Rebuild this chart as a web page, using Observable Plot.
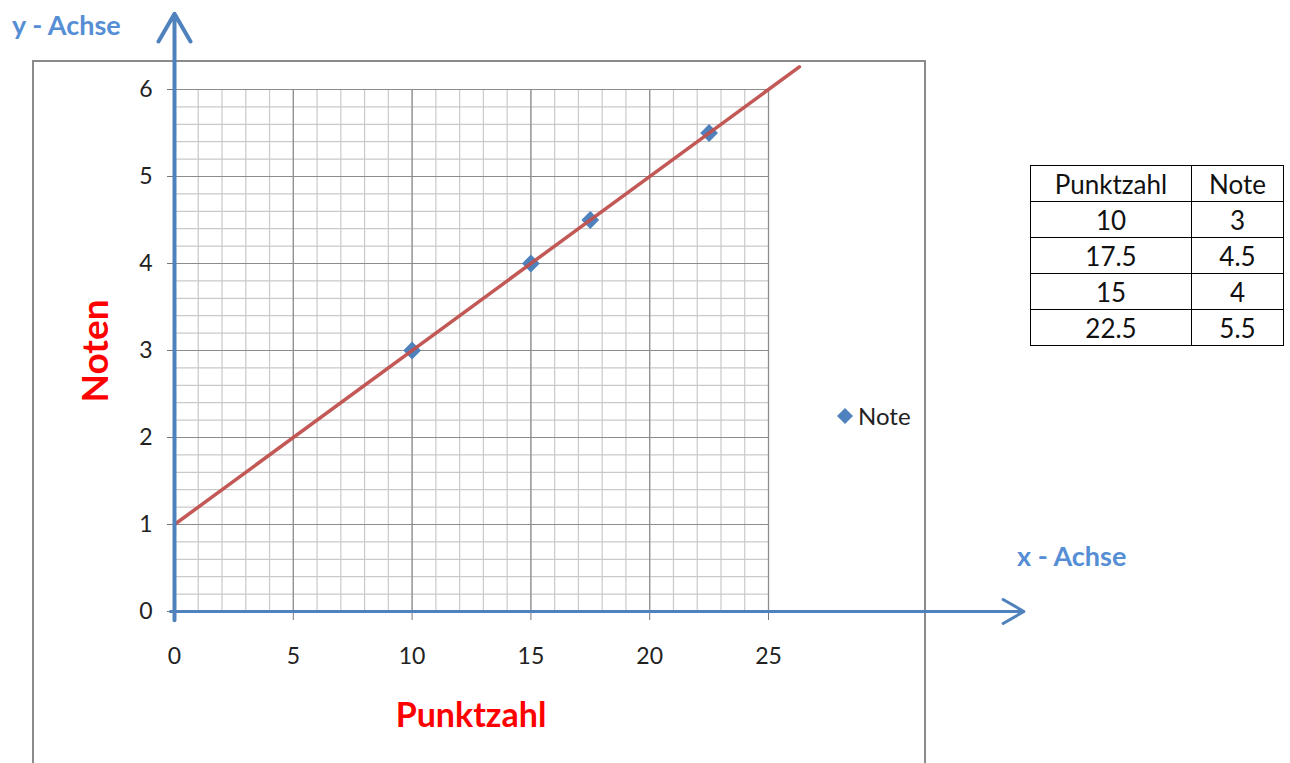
<!DOCTYPE html>
<html>
<head>
<meta charset="utf-8">
<script src="https://cdn.jsdelivr.net/npm/d3@7"></script>
<script src="https://cdn.jsdelivr.net/npm/@observablehq/plot@0.6"></script>
<style>
  body { margin: 0; background: #fff; font-family: Lato, "Open Sans", sans-serif; }
  #wrap { position: relative; width: 1290px; height: 763px; overflow: hidden; background: #fff; }
  #frame { position: absolute; left: 32px; top: 60px; width: 894px; height: 740px; border: 2px solid #8a8a8a; box-sizing: border-box; }
  #chart { position: absolute; left: 0; top: 0; }
  .lbl { position: absolute; white-space: nowrap; font-weight: bold; line-height: 1; }
  #yAchse { left: 12px; top: 11px; font-size: 27px; color: #558ED5; }
  #xAchse { left: 1017px; top: 542px; font-size: 27px; color: #558ED5; }
  #noten { left: 93px; top: 351px; font-size: 37px; color: #ff0000; transform: translate(-50%, -50%) rotate(-90deg); }
  #punkt { left: 471px; top: 714px; font-size: 34px; color: #ff0000; transform: translate(-50%, -50%); }
  #legend { position: absolute; left: 836px; top: 401px; font-size: 24px; color: #222; display: flex; align-items: center; gap: 4px; }
  #tbl { position: absolute; left: 1030px; top: 165px; border-collapse: collapse; font-size: 26px; color: #111; }
  #tbl td { border: 1.5px solid #000; text-align: center; height: 35px; padding: 0; line-height: 1; }
  #tbl td.c1 { width: 160px; }
  #tbl td.c2 { width: 91px; }
</style>
</head>
<body>
<div id="wrap">
  <div id="frame"></div>
  <div id="chart"></div>
  <div class="lbl" id="yAchse">y - Achse</div>
  <div class="lbl" id="xAchse">x - Achse</div>
  <div class="lbl" id="noten">Noten</div>
  <div class="lbl" id="punkt">Punktzahl</div>
  <div id="legend"></div>
  <table id="tbl"></table>
</div>
<script>
// ---- data ----
const punktzahl = [10, 17.5, 15, 22.5];
const noten = [3, 4.5, 4, 5.5];
const seriesName = "Note";
const tableHeader = ["Punktzahl", "Note"];
const xTicks = [0, 5, 10, 15, 20, 25];
const yTicks = [0, 1, 2, 3, 4, 5, 6];
const xMinor = d3.range(0, 26, 1);
const yMinor = d3.range(0, 6.01, 0.2).map(v => +v.toFixed(1));
const trendExtent = [0, 26.3];
// axis arrow extents (decoration, data units)
const xArrow = [{x1: -0.17, y1: 0, x2: 35.75, y2: 0}];
const yArrow = [{x1: 0, y1: -0.1, x2: 0, y2: 6.87}];

const data = punktzahl.map((p, i) => ({punktzahl: p, note: noten[i]}));

// least-squares trend line from the data
const mx = d3.mean(punktzahl), my = d3.mean(noten);
const slope = d3.sum(punktzahl, (x, i) => (x - mx) * (noten[i] - my)) / d3.sum(punktzahl, x => (x - mx) ** 2);
const intercept = my - slope * mx;
const trend = trendExtent.map(x => ({x, y: intercept + slope * x}));

const blue = "#4F81BD";
const chart = Plot.plot({
  width: 1290,
  height: 763,
  marginLeft: 174,
  marginRight: 522,
  marginTop: 89,
  marginBottom: 152,
  x: {domain: [0, 25]},
  y: {domain: [0, 6]},
  style: {background: "transparent", fontFamily: "Lato, 'Open Sans', sans-serif", fontSize: "22px", color: "#222", overflow: "visible"},
  marks: [
    Plot.ruleX(xMinor, {stroke: "#c9c9c9", strokeWidth: 1.2}),
    Plot.ruleY(yMinor, {stroke: "#c9c9c9", strokeWidth: 1.2}),
    Plot.ruleX(xTicks, {stroke: "#8c8c8c", strokeWidth: 1.2}),
    Plot.ruleY(yTicks, {stroke: "#8c8c8c", strokeWidth: 1.2}),
    Plot.axisX({ticks: xTicks, tickSize: 9, tickPadding: 27, fontSize: 23, label: null, stroke: "#777", fill: "#222", tickFormat: d => String(d)}),
    Plot.axisY({ticks: yTicks, tickSize: 7, tickPadding: 15, fontSize: 23, label: null, stroke: "#777", fill: "#222", tickFormat: d => String(d)}),
    Plot.dot(data, {x: "punktzahl", y: "note", symbol: "diamond2", r: 8, fill: blue, stroke: "none"}),
    Plot.line(trend, {x: "x", y: "y", stroke: "#C0504D", strokeWidth: 3.5, strokeOpacity: 0.95}),
    Plot.arrow(xArrow, {x1: "x1", y1: "y1", x2: "x2", y2: "y2", stroke: blue, strokeWidth: 3, headLength: 12, headAngle: 60, bend: 0}),
    Plot.arrow(yArrow, {x1: "x1", y1: "y1", x2: "x2", y2: "y2", stroke: blue, strokeWidth: 4, headLength: 12, headAngle: 60, bend: 0})
  ]
});
document.getElementById("chart").appendChild(chart);

// legend
const leg = document.getElementById("legend");
leg.innerHTML = `<svg width="18" height="18"><path d="M9,1 L17,9 L9,17 L1,9 Z" fill="${blue}"/></svg><span>${seriesName}</span>`;

// table
const tbl = document.getElementById("tbl");
const rows = [tableHeader, ...punktzahl.map((p, i) => [p, noten[i]])];
tbl.innerHTML = rows.map(r => `<tr><td class="c1">${r[0]}</td><td class="c2">${r[1]}</td></tr>`).join("");
</script>
</body>
</html>
